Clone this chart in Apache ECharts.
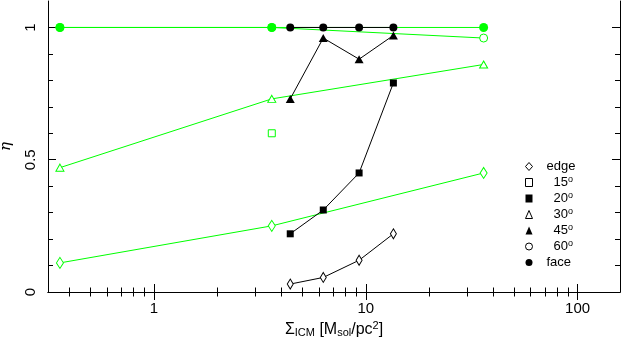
<!DOCTYPE html>
<html>
<head>
<meta charset="utf-8">
<script src="https://cdn.jsdelivr.net/npm/echarts@6/dist/echarts.min.js"></script>
<style>
html, body { margin: 0; padding: 0; background: #fff; }
#main { width: 622px; height: 339px; }
</style>
</head>
<body>
<div id="main"></div>
<script>
// x positions (Sigma_ICM) of the two runs
const xGreen = [0.36, 3.6, 36]
const xBlack = [4.4, 6.3, 9.3, 13.5]

// eta for each inclination
const greenEdge = [0.11, 0.25, 0.45]
const green15 = [null, 0.60, null]
const green30 = [0.47, 0.73, 0.86]
const green60 = [1, 1, 0.96]
const greenFace = [1, 1, 1]

const blackEdge = [0.03, 0.055, 0.12, 0.22]
const black20 = [0.22, 0.31, 0.45, 0.79]
const black45 = [0.73, 0.96, 0.88, 0.97]
const blackFace = [1, 1, 1, 1]

const legendNames = ['edge', '15°', '20°', '30°', '45°', '60°', 'face']
const xMajor = [1, 10, 100]
const xMinor = [0.4, 0.5, 0.6, 0.7, 0.8, 0.9, 2, 3, 4, 5, 6, 7, 8, 9, 20, 30, 40, 50, 60, 70, 80, 90]
const yMajor = [0, 0.5, 1]
const yMinor = [0.1, 0.2, 0.3, 0.4, 0.6, 0.7, 0.8, 0.9]

const GREEN = '#00ff00'
const BLACK = '#000000'
const FONT = 'Liberation Sans'
const xMin = 0.3162
const xMax = 158.5

function pairs(xs, ys) {
  return xs.map((x, i) => [x, ys[i]]).filter(p => p[1] != null)
}

function makeSeries(name, xs, ys, color, symbol, size, open) {
  return {
    type: 'line',
    name: name,
    data: pairs(xs, ys),
    symbol: symbol,
    symbolSize: size,
    showSymbol: true,
    showAllSymbol: true,
    lineStyle: { color: color, width: 1 },
    itemStyle: open
      ? { color: '#fff', borderColor: color, borderWidth: 1 }
      : { color: color, borderWidth: 0 },
    emphasis: { disabled: true },
    animation: false
  }
}

function xAxisDef(position, values, len, isMain) {
  return {
    type: 'log',
    position: position,
    min: xMin,
    max: xMax,
    axisLine: { show: isMain, lineStyle: { color: BLACK, width: 1 } },
    axisTick: { show: true, inside: true, length: len, customValues: values, lineStyle: { color: BLACK, width: 1 } },
    axisLabel: position === 'bottom' && isMain
      ? { show: true, customValues: xMajor, color: BLACK, fontFamily: FONT, fontSize: 15, margin: 9 }
      : { show: false },
    splitLine: { show: false },
    minorTick: { show: false }
  }
}

function yAxisDef(position, values, len, isMain) {
  return {
    type: 'value',
    position: position,
    min: 0,
    max: 1.1,
    axisLine: { show: isMain, lineStyle: { color: BLACK, width: 1 } },
    axisTick: { show: true, inside: true, length: len, customValues: values, lineStyle: { color: BLACK, width: 1 } },
    axisLabel: position === 'left' && isMain
      ? { show: true, customValues: yMajor, rotate: 90, color: BLACK, fontFamily: FONT, fontSize: 15, margin: 10 }
      : { show: false },
    splitLine: { show: false }
  }
}

const xAxes = [
  xAxisDef('bottom', xMajor, 8, true),
  xAxisDef('bottom', xMinor, 4.5, false),
  xAxisDef('top', xMajor, 8, true),
  xAxisDef('top', xMinor, 4.5, false)
]
xAxes[0].name = 'Σ{sub|ICM} [M{sub|sol}/pc{sup|2}]'
xAxes[0].nameLocation = 'middle'
xAxes[0].nameGap = 27
xAxes[0].nameTextStyle = {
  color: BLACK, fontFamily: FONT, fontSize: 16, lineHeight: 18,
  rich: {
    sub: { fontFamily: FONT, fontSize: 11, lineHeight: 10, verticalAlign: 'bottom', color: BLACK },
    sup: { fontFamily: FONT, fontSize: 11, lineHeight: 10, verticalAlign: 'top', color: BLACK }
  }
}

const yAxes = [
  yAxisDef('left', yMajor, 8, true),
  yAxisDef('left', yMinor, 5, false),
  yAxisDef('right', yMajor, 8, true),
  yAxisDef('right', yMinor, 5, false)
]
yAxes[0].name = 'η'
yAxes[0].nameLocation = 'middle'
yAxes[0].nameRotate = 90
yAxes[0].nameGap = 34
yAxes[0].nameTextStyle = { color: BLACK, fontFamily: 'DejaVu Serif', fontSize: 15, fontStyle: 'italic' }

const legendIcons = {
  'edge': ['diamond', true],
  '15°': ['rect', true],
  '20°': ['rect', false],
  '30°': ['triangle', true],
  '45°': ['triangle', false],
  '60°': ['circle', true],
  'face': ['circle', false]
}

const option = {
  backgroundColor: '#fff',
  animation: false,
  grid: { left: 48, right: 2, top: 1, bottom: 47, containLabel: false, outerBoundsMode: 'none' },
  xAxis: xAxes,
  yAxis: yAxes,
  legend: {
    orient: 'vertical',
    left: 525,
    top: 159.5,
    padding: 0,
    itemWidth: 7,
    itemHeight: 8,
    itemGap: 2,
    selectedMode: false,
    data: legendNames.map(name => {
      const [icon, open] = legendIcons[name]
      return {
        name: name,
        icon: icon,
        itemStyle: open
          ? { color: '#fff', borderColor: BLACK, borderWidth: 1 }
          : { color: BLACK, borderColor: BLACK, borderWidth: 0 }
      }
    }),
    formatter: name => {
      if (name === 'edge' || name === 'face') return '{w|' + name + '}'
      return '{n|' + name.replace('°', '') + '}{s|o}'
    },
    textStyle: {
      color: BLACK, fontFamily: FONT, fontSize: 13, lineHeight: 14, padding: [0, 0, 0, 9],
      rich: {
        w: { fontFamily: FONT, fontSize: 13, lineHeight: 14, color: BLACK },
        n: { fontFamily: FONT, fontSize: 13, lineHeight: 14, color: BLACK, padding: [0, 0, 0, 7] },
        s: { fontFamily: FONT, fontSize: 9, lineHeight: 9, verticalAlign: 'top', color: BLACK }
      }
    }
  },
  series: [
    makeSeries('edge', xGreen, greenEdge, GREEN, 'diamond', [7, 11], true),
    makeSeries('15°', xGreen, green15, GREEN, 'rect', 7, true),
    makeSeries('30°', xGreen, green30, GREEN, 'triangle', [8, 7], true),
    makeSeries('60°', xGreen, green60, GREEN, 'circle', 8, true),
    makeSeries('face', xGreen, greenFace, GREEN, 'circle', 9, false),
    makeSeries('edge', xBlack, blackEdge, BLACK, 'diamond', [6, 10], true),
    makeSeries('20°', xBlack, black20, BLACK, 'rect', 7, false),
    makeSeries('45°', xBlack, black45, BLACK, 'triangle', [9, 8], false),
    makeSeries('face', xBlack, blackFace, BLACK, 'circle', 8, false)
  ]
}

const myChart = echarts.init(document.getElementById('main'))
myChart.setOption(option)
</script>
</body>
</html>
